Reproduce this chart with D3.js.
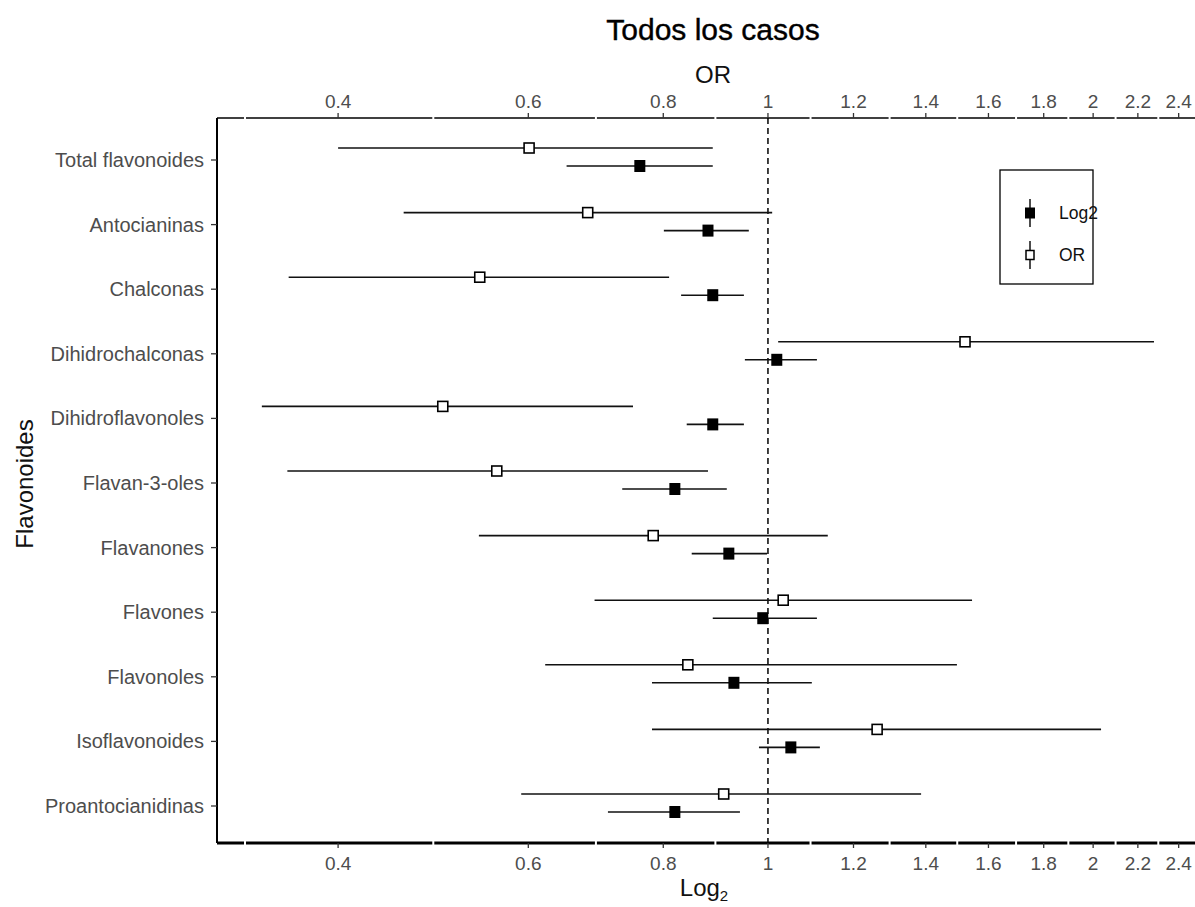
<!DOCTYPE html>
<html>
<head>
<meta charset="utf-8">
<script src="https://cdn.jsdelivr.net/npm/d3@7"></script>
<style>
  html, body { margin: 0; padding: 0; background: #fff; }
  svg { display: block; font-family: "Liberation Sans", Arial, sans-serif; }
</style>
</head>
<body>
<svg id="chart" width="1195" height="907"></svg>
<script>
// Flavonoid groups, top to bottom
const categories = [
  "Total flavonoides", "Antocianinas", "Chalconas", "Dihidrochalconas",
  "Dihidroflavonoles", "Flavan-3-oles", "Flavanones", "Flavones",
  "Flavonoles", "Isoflavonoides", "Proantocianidinas"
];

// Odds ratios with 95% confidence limits
const orEst   = [0.601, 0.681, 0.541, 1.522, 0.500, 0.561, 0.783, 1.033, 0.843, 1.262, 0.910];
const orLow   = [0.400, 0.460, 0.360, 1.022, 0.340, 0.359, 0.540, 0.691, 0.622, 0.781, 0.591];
const orHigh  = [0.889, 1.009, 0.810, 2.277, 0.750, 0.880, 1.136, 1.545, 1.496, 2.034, 1.386];

// Log2-exposure estimates with 95% confidence limits
const l2Est   = [0.761, 0.880, 0.889, 1.019, 0.889, 0.820, 0.920, 0.989, 0.930, 1.050, 0.820];
const l2Low   = [0.651, 0.801, 0.831, 0.952, 0.841, 0.733, 0.850, 0.889, 0.781, 0.981, 0.711];
const l2High  = [0.889, 0.960, 0.950, 1.110, 0.950, 0.916, 0.998, 1.110, 1.098, 1.117, 0.942];

// Axis breaks
const majorTicks = [0.4, 0.6, 0.8, 1, 1.2, 1.4, 1.6, 1.8, 2, 2.2, 2.4];
const minorTicks = [0.328, 0.49, 0.693, 0.894, 1.095, 1.296, 1.497, 1.697, 1.897, 2.098, 2.298];

const svg = d3.select("#chart");
const pLeft = 217, pRight = 1195, pTop = 118, pBottom = 843;

const x = d3.scaleLog().domain([0.309, 2.485]).range([pLeft, pRight]);
const y = d3.scalePoint().domain(categories).range([160, 806]);
const orShift = -12, l2Shift = 6;

const fmt = d => String(d);

// Reference line at 1
svg.append("line")
  .attr("x1", x(1)).attr("x2", x(1))
  .attr("y1", pTop).attr("y2", pBottom)
  .attr("stroke", "#000").attr("stroke-width", 1.5)
  .attr("stroke-dasharray", "6,4");

// Error bars and points
const rows = categories.map((c, i) => ({
  c, orE: orEst[i], orL: orLow[i], orH: orHigh[i],
  l2E: l2Est[i], l2L: l2Low[i], l2H: l2High[i]
}));

const g = svg.append("g");
g.selectAll(".or-bar").data(rows).join("line")
  .attr("x1", d => x(d.orL)).attr("x2", d => x(d.orH))
  .attr("y1", d => y(d.c) + orShift).attr("y2", d => y(d.c) + orShift)
  .attr("stroke", "#111").attr("stroke-width", 1.6);
g.selectAll(".l2-bar").data(rows).join("line")
  .attr("x1", d => x(d.l2L)).attr("x2", d => x(d.l2H))
  .attr("y1", d => y(d.c) + l2Shift).attr("y2", d => y(d.c) + l2Shift)
  .attr("stroke", "#111").attr("stroke-width", 1.6);

g.selectAll(".or-pt").data(rows).join("rect")
  .attr("x", d => x(d.orE) - 5).attr("y", d => y(d.c) + orShift - 5)
  .attr("width", 10).attr("height", 10)
  .attr("fill", "#fff").attr("stroke", "#000").attr("stroke-width", 1.6);
g.selectAll(".l2-pt").data(rows).join("rect")
  .attr("x", d => x(d.l2E) - 5.5).attr("y", d => y(d.c) + l2Shift - 6)
  .attr("width", 11).attr("height", 12)
  .attr("fill", "#000");

// Horizontal axes (top and bottom share the same breaks)
function hAxis(yPos, dir, width, labelY) {
  svg.append("line").attr("x1", pLeft).attr("x2", pRight)
    .attr("y1", yPos).attr("y2", yPos)
    .attr("stroke", "#000").attr("stroke-width", width);
  // minor breaks show as short gaps in the axis line
  svg.selectAll(null).data(minorTicks).join("rect")
    .attr("x", d => x(d) - 1).attr("y", yPos - 3)
    .attr("width", 2).attr("height", 6).attr("fill", "#fff");
  svg.selectAll(null).data(majorTicks).join("line")
    .attr("x1", d => x(d)).attr("x2", d => x(d))
    .attr("y1", yPos).attr("y2", yPos + dir * 5)
    .attr("stroke", "#333").attr("stroke-width", 1.3);
  svg.selectAll(null).data(majorTicks).join("text")
    .attr("x", d => x(d)).attr("y", labelY)
    .attr("text-anchor", "middle")
    .attr("font-size", 19).attr("fill", "#4d4d4d")
    .text(fmt);
}
hAxis(pTop, -1, 1.6, 108);
hAxis(pBottom, 1, 3, 870);

// Left axis
svg.append("line").attr("x1", pLeft).attr("x2", pLeft)
  .attr("y1", pTop).attr("y2", pBottom)
  .attr("stroke", "#000").attr("stroke-width", 2);
svg.selectAll(null).data(categories).join("line")
  .attr("x1", pLeft - 6).attr("x2", pLeft)
  .attr("y1", d => y(d)).attr("y2", d => y(d))
  .attr("stroke", "#333").attr("stroke-width", 1.3);
svg.selectAll(null).data(categories).join("text")
  .attr("x", pLeft - 13).attr("y", d => y(d) + 7)
  .attr("text-anchor", "end")
  .attr("font-size", 20).attr("fill", "#4d4d4d")
  .text(d => d);

// Titles
svg.append("text").attr("x", 713).attr("y", 40)
  .attr("text-anchor", "middle").attr("font-size", 30)
  .attr("fill", "#000").attr("stroke", "#000").attr("stroke-width", 0.4)
  .text("Todos los casos");
svg.append("text").attr("x", 713).attr("y", 83)
  .attr("text-anchor", "middle").attr("font-size", 24).attr("fill", "#111")
  .text("OR");
const xl = svg.append("text").attr("x", 704).attr("y", 896)
  .attr("text-anchor", "middle").attr("font-size", 24).attr("fill", "#111");
xl.append("tspan").text("Log");
xl.append("tspan").attr("font-size", 15).attr("dy", 5).text("2");
svg.append("text")
  .attr("transform", "translate(33,484) rotate(-90)")
  .attr("text-anchor", "middle").attr("font-size", 24).attr("fill", "#111")
  .text("Flavonoides");

// Legend
const legendItems = [
  { label: "Log2", filled: true },
  { label: "OR", filled: false }
];
const lg = svg.append("g");
lg.append("rect").attr("x", 1000).attr("y", 170).attr("width", 93).attr("height", 114)
  .attr("fill", "#fff").attr("stroke", "#000").attr("stroke-width", 1.3);
const ly = d3.scalePoint().domain(legendItems.map(d => d.label)).range([213, 255]);
const li = lg.selectAll(".item").data(legendItems).join("g")
  .attr("transform", d => `translate(1030,${ly(d.label)})`);
li.append("line").attr("x1", 0).attr("x2", 0).attr("y1", -14).attr("y2", 14)
  .attr("stroke", "#111").attr("stroke-width", 1.5);
li.append("rect")
  .attr("x", d => d.filled ? -5 : -4).attr("y", d => d.filled ? -5.5 : -4.5)
  .attr("width", d => d.filled ? 10 : 8).attr("height", d => d.filled ? 11 : 9)
  .attr("fill", d => d.filled ? "#000" : "#fff")
  .attr("stroke", "#000").attr("stroke-width", d => d.filled ? 0 : 1.5);
li.append("text").attr("x", 29).attr("y", 6)
  .attr("font-size", 17.5).attr("fill", "#111")
  .text(d => d.label);
</script>
</body>
</html>
